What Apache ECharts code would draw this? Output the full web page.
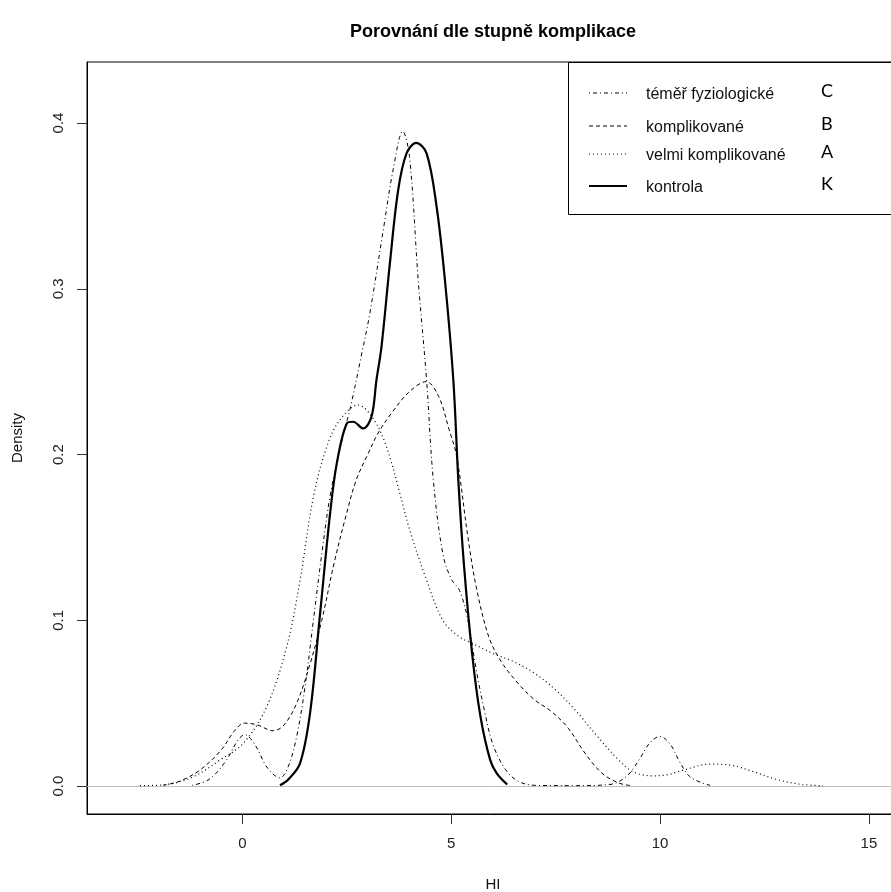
<!DOCTYPE html>
<html><head><meta charset="utf-8">
<script src="https://cdn.jsdelivr.net/npm/echarts@6/dist/echarts.min.js"></script>
<style>html,body{margin:0;padding:0;background:#fff}#c{width:891px;height:892px}</style>
</head><body><div id="c"></div>
<script>
// ---- data (x = HI, y = density) ----
const xTicks = [0, 5, 10, 15];
const yTicks = [0, 0.1, 0.2, 0.3, 0.4];
const legendNames = ['téměř fyziologické', 'komplikované', 'velmi komplikované', 'kontrola'];
const legendLetters = ['C', 'B', 'A', 'K'];

const fyziologicke = [[-1.2,0.0005],[-0.8,0.004],[-0.4,0.015],[-0.1,0.028],[0.06,0.031],[0.3,0.025],[0.6,0.011],[0.9,0.005],[1.1,0.012],[1.3,0.03],[1.5,0.06],[1.7,0.1],[1.9,0.14],[2.1,0.175],[2.35,0.205],[2.6,0.23],[2.85,0.26],[3.05,0.285],[3.37,0.335],[3.61,0.372],[3.84,0.395],[4.0,0.38],[4.21,0.305],[4.41,0.245],[4.57,0.185],[4.8,0.14],[5.0,0.125],[5.2,0.118],[5.4,0.1],[5.6,0.07],[5.8,0.045],[6.0,0.025],[6.3,0.01],[6.6,0.003],[7.0,0.0005],[8.0,0.0003],[8.8,0.001],[9.2,0.006],[9.5,0.016],[9.75,0.026],[10.0,0.03],[10.25,0.025],[10.44,0.016],[10.7,0.006],[11.0,0.002],[11.2,0.0005]];

const komplikovane = [[-1.9,0.0005],[-1.5,0.003],[-1.0,0.01],[-0.5,0.022],[-0.2,0.033],[0.05,0.038],[0.35,0.037],[0.74,0.0334],[1.0,0.037],[1.3,0.05],[1.6,0.072],[1.9,0.1],[2.2,0.135],[2.5,0.165],[2.73,0.185],[3.0,0.2],[3.25,0.213],[3.6,0.226],[4.0,0.238],[4.4,0.244],[4.7,0.235],[4.95,0.215],[5.13,0.199],[5.4,0.15],[5.6,0.12],[5.9,0.09],[6.2,0.075],[6.6,0.062],[7.0,0.052],[7.4,0.045],[7.8,0.035],[8.2,0.02],[8.6,0.008],[9.0,0.002],[9.3,0.0003]];

const velmiKomplikovane = [[-2.45,0.0003],[-1.82,0.001],[-1.18,0.0056],[-0.54,0.0157],[0.02,0.0258],[0.58,0.0478],[1.06,0.084],[1.38,0.124],[1.7,0.1745],[2.02,0.2047],[2.33,0.2208],[2.77,0.2299],[3.13,0.2218],[3.45,0.2047],[3.77,0.1766],[4.0,0.155],[4.4,0.125],[4.8,0.1],[5.2,0.09],[5.6,0.085],[6.0,0.08],[6.5,0.075],[7.0,0.068],[7.5,0.058],[8.0,0.045],[8.5,0.03],[9.0,0.016],[9.36,0.0086],[9.84,0.0062],[10.2,0.007],[10.56,0.0097],[11.2,0.0133],[11.68,0.0127],[12.2,0.009],[12.8,0.004],[13.4,0.001],[13.9,0.0003]];

const kontrola = [[0.9,0.0005],[1.1,0.004],[1.38,0.0137],[1.62,0.044],[1.86,0.104],[2.1,0.1645],[2.26,0.1947],[2.5,0.2188],[2.65,0.2198],[2.89,0.2158],[3.09,0.2228],[3.21,0.245],[3.33,0.265],[3.53,0.315],[3.73,0.3596],[3.93,0.3817],[4.16,0.388],[4.41,0.3817],[4.65,0.3495],[4.85,0.305],[5.05,0.245],[5.17,0.1846],[5.3,0.135],[5.5,0.08],[5.7,0.042],[5.93,0.016],[6.09,0.0077],[6.34,0.001]];

// ---- styles ----
const FONT = '"Liberation Sans", Arial, sans-serif';
const dashes = {
  dotdash: [1, 3, 4, 3],
  dashed: [4, 3],
  dotted: [1, 3],
  solid: 'solid'
};

const chart = echarts.init(document.getElementById('c'), null, {renderer: 'canvas'});

function lineSeries(name, data, dash, width) {
  return {
    name: name, type: 'line', data: data, showSymbol: false, smooth: 0.35,
    lineStyle: {color: '#000', width: width, type: dash},
    z: 3, silent: true
  };
}

const series = [
  lineSeries(legendNames[0], fyziologicke, dashes.dotdash, 1),
  lineSeries(legendNames[1], komplikovane, dashes.dashed, 1),
  lineSeries(legendNames[2], velmiKomplikovane, dashes.dotted, 1.2),
  lineSeries(legendNames[3], kontrola, dashes.solid, 2.2)
];
series[0].markLine = {
  silent: true, symbol: ['none', 'none'], label: {show: false},
  lineStyle: {color: '#bebebe', type: 'solid', width: 1},
  data: [{yAxis: 0}], z: 1
};

// legend graphics
const legendG = [{
  type: 'rect', shape: {x: 568.5, y: 62.5, width: 400, height: 152},
  style: {fill: '#fff', stroke: '#000', lineWidth: 1}, z: 10
}];
const rowY = [93, 126, 154, 186];
const rowStyle = [dashes.dotdash, dashes.dashed, dashes.dotted, null];
legendNames.forEach((n, i) => {
  legendG.push({
    type: 'line', shape: {x1: 589, y1: rowY[i], x2: 627, y2: rowY[i]},
    style: {stroke: '#000', lineWidth: i === 3 ? 2.2 : 1, lineDash: rowStyle[i]}, z: 11
  });
  legendG.push({
    type: 'text', x: 646, y: rowY[i] + 2,
    style: {text: n, font: '16px ' + FONT, fill: '#111', textVerticalAlign: 'middle'}, z: 11
  });
  legendG.push({
    type: 'text', x: 821, y: rowY[i] - 2,
    style: {text: legendLetters[i], font: '18px Lato, "Open Sans", sans-serif', fill: '#000', textVerticalAlign: 'middle'}, z: 11
  });
});

const tickStyle = {color: '#333', width: 1};
chart.setOption({
  animation: false,
  backgroundColor: '#fff',
  grid: {left: 87, top: 62, width: 812, height: 752, show: true, borderColor: '#000', borderWidth: 1,
    backgroundColor: 'transparent', outerBoundsMode: 'none', containLabel: false},
  xAxis: {
    type: 'value', min: -3.72, max: 15.72,
    name: 'HI', nameLocation: 'middle', nameGap: 63,
    nameTextStyle: {fontFamily: FONT, fontSize: 15, color: '#111'},
    axisLine: {show: true, onZero: false, lineStyle: {color: '#000', width: 1}},
    axisTick: {show: true, customValues: xTicks, length: 10, lineStyle: tickStyle},
    axisLabel: {customValues: xTicks, margin: 22, fontFamily: FONT, fontSize: 15, color: '#222'},
    splitLine: {show: false}
  },
  yAxis: {
    type: 'value', min: -0.0168, max: 0.4368,
    name: 'Density', nameLocation: 'middle', nameGap: 62, nameRotate: 90,
    nameTextStyle: {fontFamily: FONT, fontSize: 15, color: '#111'},
    axisLine: {show: true, onZero: false, lineStyle: {color: '#000', width: 1}},
    axisTick: {show: true, customValues: yTicks, length: 10, lineStyle: tickStyle},
    axisLabel: {customValues: yTicks, rotate: 90, margin: 21, fontFamily: FONT, fontSize: 15, color: '#222',
      formatter: v => v.toFixed(1)},
    splitLine: {show: false}
  },
  series: series,
  graphic: [{
    type: 'text', x: 493, y: 32,
    style: {text: 'Porovnání dle stupně komplikace', font: 'bold 18px ' + FONT, fill: '#000', textAlign: 'center', textVerticalAlign: 'middle'}
  }].concat(legendG)
});
</script></body></html>
